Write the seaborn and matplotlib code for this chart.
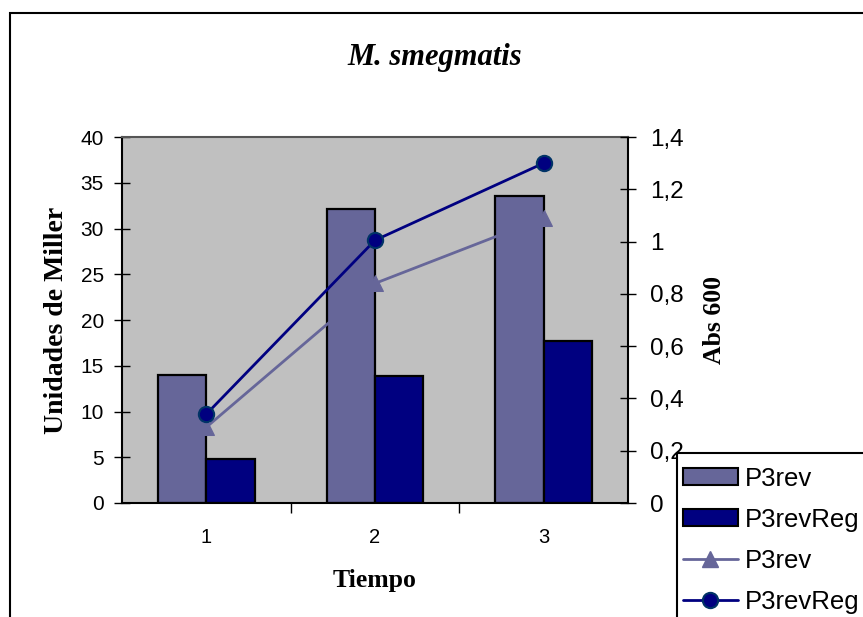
import matplotlib
matplotlib.use("Agg")
import matplotlib.pyplot as plt
from matplotlib.patches import Rectangle, Patch
from matplotlib.lines import Line2D
from matplotlib.ticker import FuncFormatter, FixedLocator
import seaborn as sns
import pandas as pd

# Data
tiempo = ["1", "2", "3"]
miller_p3rev = [14.0, 32.1, 33.5]
miller_p3revreg = [4.8, 13.9, 17.7]
abs_p3rev = [0.29, 0.84, 1.09]
abs_p3revreg = [0.34, 1.005, 1.30]
series_names = ["P3rev", "P3revReg"]

c_light = "#666699"
c_dark = "#000080"

sns.set_theme(style="white")
plt.rcParams["font.family"] = ["Liberation Sans", "DejaVu Sans"]
plt.rcParams["text.color"] = "black"
plt.rcParams["axes.labelcolor"] = "black"

W, H = 863, 617
fig = plt.figure(figsize=(W / 100, H / 100), dpi=100)
fig.patch.set_facecolor("white")

ax = fig.add_axes([122 / W, 1 - 503 / H, 506 / W, 366 / H])
ax.set_facecolor("#C0C0C0")

bars = pd.DataFrame({
    "Tiempo": tiempo * 2,
    "Miller": miller_p3rev + miller_p3revreg,
    "Serie": [series_names[0]] * 3 + [series_names[1]] * 3,
})
sns.barplot(data=bars, x="Tiempo", y="Miller", hue="Serie",
            palette=[c_light, c_dark], width=0.573, gap=0,
            edgecolor="black", linewidth=1.6, saturation=1,
            legend=False, ax=ax, zorder=2)

ax.set_xlim(-0.5, 2.5)
ax.set_ylim(0, 40)
ax.set_yticks(range(0, 41, 5))
ax.xaxis.set_minor_locator(FixedLocator([0.5, 1.5]))
ax.tick_params(axis="x", which="major", length=0, pad=18, labelsize=14.5,
               colors="black")
ax.tick_params(axis="x", which="minor", length=7, width=1, direction="out",
               color="black", bottom=True)
ax.tick_params(axis="y", which="major", length=12, width=1, direction="inout",
               pad=7, labelsize=15, colors="black", left=True)
ax.set_xlabel("Tiempo", fontsize=18.5, fontweight="bold",
              family="Liberation Serif", labelpad=16)
ax.set_ylabel("Unidades de Miller", fontsize=20, fontweight="bold",
              family="Liberation Serif", labelpad=8)
for side in ["left", "bottom", "right"]:
    ax.spines[side].set_color("black")
    ax.spines[side].set_linewidth(1.5)
ax.spines["top"].set_color("#555555")
ax.spines["top"].set_linewidth(1.5)

# Absorbance on the secondary axis
ax2 = ax.twinx()
ax2.patch.set_visible(False)
x_pos = [0, 1, 2]
sns.lineplot(x=x_pos, y=abs_p3rev, ax=ax2, color=c_light, linewidth=2,
             marker="^", markersize=11, markeredgecolor=c_light,
             markerfacecolor=c_light)
sns.lineplot(x=x_pos, y=abs_p3revreg, ax=ax2, color=c_dark, linewidth=2,
             marker="o", markersize=11, markeredgecolor="#003366",
             markeredgewidth=1.5, markerfacecolor=c_dark)
ax2.set_xlim(-0.5, 2.5)
ax2.set_ylim(0, 1.4)
ax2.set_yticks([0, 0.2, 0.4, 0.6, 0.8, 1.0, 1.2, 1.4])


def comma_fmt(v, _):
    s = ("%.1f" % v).rstrip("0").rstrip(".")
    return s.replace(".", ",")


ax2.yaxis.set_major_formatter(FuncFormatter(comma_fmt))
ax2.tick_params(axis="y", which="major", length=12, width=1, direction="inout",
                pad=10, labelsize=17.5, colors="black", right=True)
ax2.set_ylabel("Abs 600", fontsize=18.5, fontweight="bold",
               family="Liberation Serif", labelpad=14)
for sp in ax2.spines.values():
    sp.set_visible(False)

fig.text(435 / W, 1 - 57 / H, "M. smegmatis", ha="center", va="center",
         fontsize=22, fontweight="bold", fontstyle="italic",
         family="Liberation Serif")

# Chart border
fig.patches.append(Rectangle((10 / W, -0.1), 1.2, 1.1 - 12.7 / H,
                             transform=fig.transFigure, fill=False,
                             edgecolor="black", linewidth=1.5, zorder=10))

# Legend box (runs past the chart edge)
fig.patches.append(Rectangle((677 / W, -0.1), 0.5, 0.1 + 1 - 453 / H,
                             transform=fig.transFigure, facecolor="white",
                             edgecolor="black", linewidth=1.5, zorder=15))

handles = [
    Patch(facecolor=c_light, edgecolor="black", linewidth=1.5),
    Patch(facecolor=c_dark, edgecolor="black", linewidth=1.5),
    Line2D([], [], color=c_light, linewidth=2, marker="^", markersize=11,
           markerfacecolor=c_light, markeredgecolor=c_light),
    Line2D([], [], color=c_dark, linewidth=2, marker="o", markersize=11,
           markerfacecolor=c_dark, markeredgecolor="#003366",
           markeredgewidth=1.5),
]
labels = ["P3rev", "P3revReg", "P3rev", "P3revReg"]
leg = fig.legend(handles, labels, loc="upper left",
                 bbox_to_anchor=(675 / W, 1 - 459 / H),
                 bbox_transform=fig.transFigure, fontsize=18.5,
                 frameon=False,
                 handlelength=2.15, handleheight=0.65, handletextpad=0.25,
                 labelspacing=0.66, borderpad=0.3, borderaxespad=0)
leg.set_zorder(20)

fig.savefig("out.png", dpi=100, facecolor="white")
